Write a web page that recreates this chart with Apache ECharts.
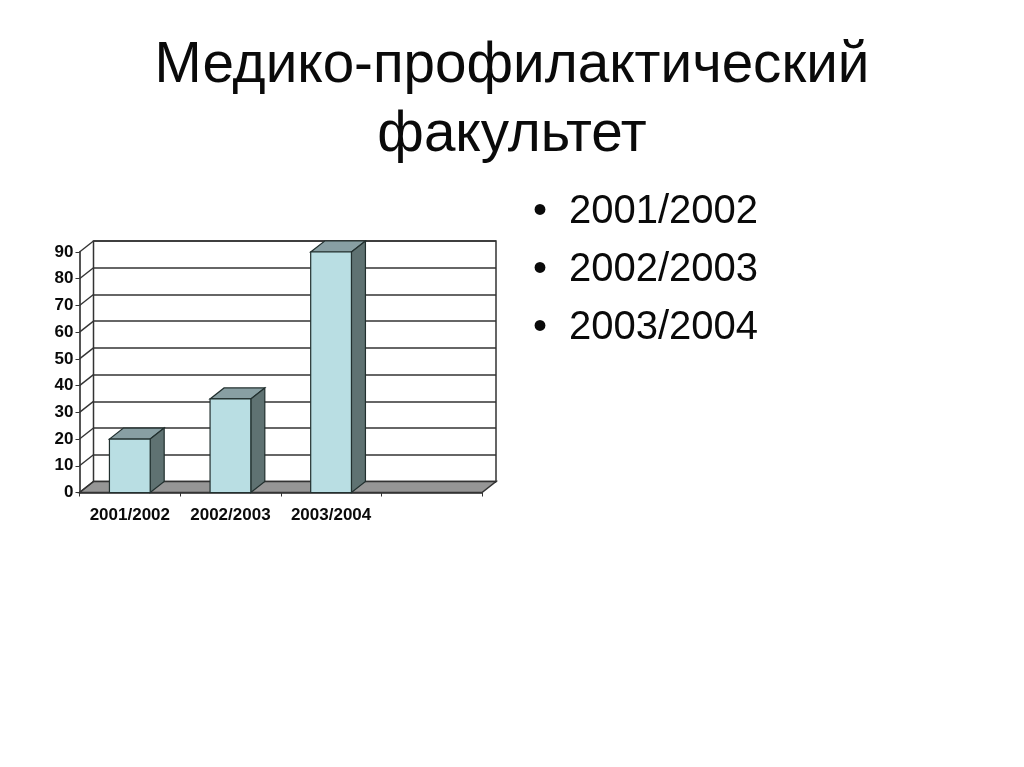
<!DOCTYPE html>
<html>
<head>
<meta charset="utf-8">
<style>html,body{margin:0;padding:0;background:#fff}#c{width:1024px;height:767px}</style>
<script src="https://cdn.jsdelivr.net/npm/echarts@6/dist/echarts.min.js"></script>
</head>
<body>
<div id="c"></div>
<script>
const titleText = "Медико-профилактический\nфакультет";
const categories = ["2001/2002", "2002/2003", "2003/2004", ""];
const values = [20, 35, 90, null];
const yTicks = [0, 10, 20, 30, 40, 50, 60, 70, 80, 90];
const bullets = ["2001/2002", "2002/2003", "2003/2004"];

const DX = 14, DY = -11;
const LINE = "#333333";
const chart = echarts.init(document.getElementById("c"), null, {renderer: "canvas"});

function poly(points, fill, stroke, w) {
  return {type: "polygon", shape: {points}, style: {fill, stroke: stroke || "#22302f", lineWidth: w || 1.2}};
}

const bulletGraphics = [];
bullets.forEach((t, i) => {
  const y = 211 + i * 58;
  bulletGraphics.push({type: "text", left: 533, top: y - 22, style: {text: "•", fontFamily: "Liberation Sans", fontSize: 40, fill: "#0a0a0a", lineHeight: 46}});
  bulletGraphics.push({type: "text", left: 569, top: y - 22, style: {text: t, fontFamily: "Liberation Sans", fontSize: 40, fill: "#0a0a0a", lineHeight: 46}});
});

chart.setOption({
  animation: false,
  backgroundColor: "#ffffff",
  title: {
    text: titleText, left: 507, top: 27, textAlign: "center",
    textStyle: {fontFamily: "Liberation Sans", fontSize: 56.6, fontWeight: "normal", color: "#0a0a0a", lineHeight: 69}
  },
  graphic: bulletGraphics,
  grid: [
    {left: 79.5, top: 252, width: 402.5, height: 240.5, show: false},
    {left: 93.5, top: 241, width: 402.5, height: 240.5, show: true, borderColor: LINE, borderWidth: 1.5, backgroundColor: "#fff"}
  ],
  xAxis: [
    {type: "category", gridIndex: 0, data: categories,
     axisLine: {lineStyle: {color: LINE, width: 1.5}},
     axisTick: {show: true, length: 4, lineStyle: {color: LINE}},
     axisLabel: {interval: 0, margin: 14, fontFamily: "Liberation Sans", fontWeight: "bold", fontSize: 17, color: "#0a0a0a"}},
    {type: "category", gridIndex: 1, data: categories, axisLine: {show: false}, axisTick: {show: false}, axisLabel: {show: false}}
  ],
  yAxis: [
    {type: "value", gridIndex: 0, min: 0, max: 90, interval: 10,
     axisLine: {show: true, lineStyle: {color: "#555", width: 2}},
     axisTick: {show: true, length: 4, lineStyle: {color: LINE}},
     splitLine: {show: false},
     axisLabel: {margin: 6, fontFamily: "Liberation Sans", fontWeight: "bold", fontSize: 17, color: "#0a0a0a"}},
    {type: "value", gridIndex: 1, min: 0, max: 90, interval: 10,
     axisLine: {show: false}, axisTick: {show: false}, axisLabel: {show: false},
     splitLine: {show: true, lineStyle: {color: LINE, width: 1.5}}}
  ],
  series: [
    {
      type: "custom", xAxisIndex: 0, yAxisIndex: 0, z: 3, silent: true, clip: false,
      data: [0],
      renderItem(params, api) {
        const r = params.coordSys;
        const b = r.y + r.height;
        return poly([[r.x, b], [r.x + r.width, b], [r.x + r.width + DX, b + DY], [r.x + DX, b + DY]], "#969696", LINE, 1.5);
      }
    },
    {
      type: "custom", xAxisIndex: 0, yAxisIndex: 0, z: 4, silent: true, clip: false,
      data: yTicks.map(v => [0, v]),
      renderItem(params, api) {
        const r = params.coordSys;
        const y = api.coord([0, api.value(1)])[1];
        return {type: "line", shape: {x1: r.x, y1: y, x2: r.x + DX, y2: y + DY}, style: {stroke: LINE, lineWidth: 1.4}};
      }
    },
    {
      type: "custom", xAxisIndex: 0, yAxisIndex: 0, z: 5, silent: true, clip: false,
      encode: {x: 0, y: 1},
      data: categories.map((c, i) => [i, values[i]]),
      renderItem(params, api) {
        const v = api.value(1);
        if (v === null || isNaN(v)) return null;
        const [cx, top] = api.coord([api.value(0), v]);
        const base = api.coord([api.value(0), 0])[1];
        const w = api.size([1, 0])[0] * 0.405;
        const l = cx - w / 2, r = cx + w / 2;
        return {type: "group", children: [
          poly([[l, top], [r, top], [r + DX, top + DY], [l + DX, top + DY]], "#889FA3"),
          poly([[r, top], [r + DX, top + DY], [r + DX, base + DY], [r, base]], "#5F7272"),
          poly([[l, top], [r, top], [r, base], [l, base]], "#B9DEE3")
        ]};
      }
    }
  ]
});
</script>
</body>
</html>
